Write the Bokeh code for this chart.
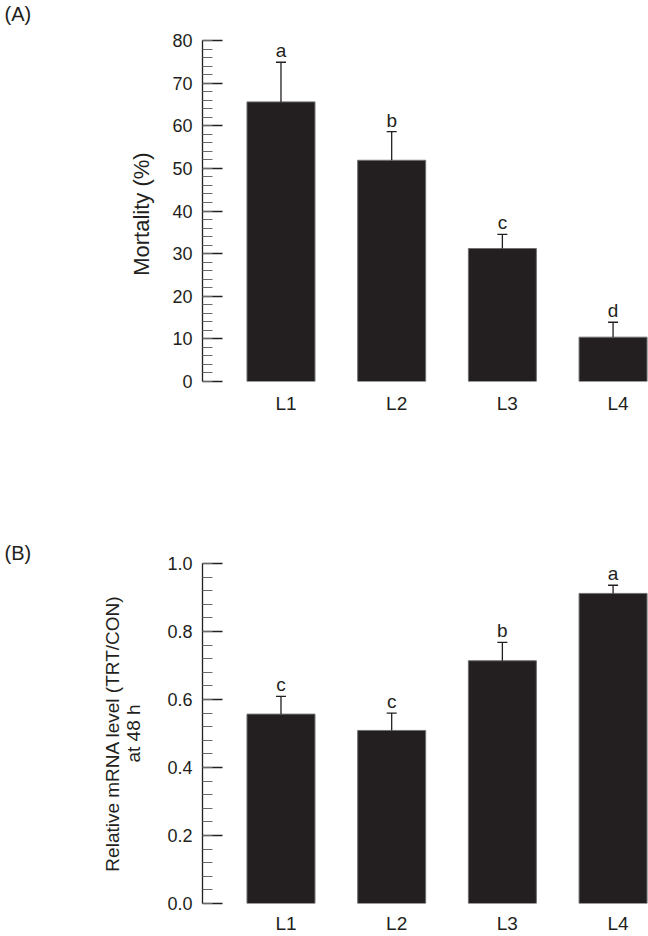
from bokeh.plotting import figure
from bokeh.layouts import column
from bokeh.models import (Range1d, FixedTicker, SingleIntervalTicker,
                          NumeralTickFormatter, ColumnDataSource)
from bokeh.core.properties import value
from bokeh.embed import file_html
from bokeh.resources import INLINE

# ---------------- data ----------------
categories = ["L1", "L2", "L3", "L4"]

mortality = [65.6, 51.9, 31.2, 10.4]
mortality_err = [9.3, 6.7, 3.3, 3.5]
mortality_letters = ["a", "b", "c", "d"]

mrna = [0.557, 0.509, 0.714, 0.912]
mrna_err = [0.052, 0.051, 0.054, 0.024]
mrna_letters = ["c", "c", "b", "a"]

FONT = "Liberation Sans"
INK = "#231f20"

# ---------------- layout constants ----------------
FIG_W = 648
LEFT = 202
X_START, X_END = 0.291, 4.32
UNIT_PX = (FIG_W - LEFT) / (X_END - X_START)
BAR_W = 68 / UNIT_PX
CAP_HALF = 5 / UNIT_PX
LABEL_SHIFT = 5 / UNIT_PX
TAG_H = 28


def style_title(p, tag, standoff):
    p.title.text = tag
    p.title.align = "left"
    p.title.offset = 4 - LEFT
    p.title.standoff = standoff
    p.title.text_font = FONT
    p.title.text_font_size = "20px"
    p.title.text_font_style = "normal"
    p.title.text_color = INK


def tag_strip(tag):
    # thin strip whose title carries the "(A)" tag at the very top of the page
    t = figure(width=FIG_W, height=TAG_H, x_range=Range1d(0, 1),
               y_range=Range1d(0, 1), output_backend="svg",
               toolbar_location=None, x_axis_location=None,
               y_axis_location=None, min_border=0)
    t.grid.visible = False
    t.outline_line_color = None
    style_title(t, tag, 0)
    return t


def make_panel(vals, errs, letters, y_end, interval, fmt, ylabel, ylabel_size,
               height, top, bottom, tag, tag_standoff,
               xlabel_standoff, ylabel_standoff):
    frame_h = height - top - bottom
    per_px = y_end / frame_h
    xs = list(range(1, len(categories) + 1))
    tops = [v + e for v, e in zip(vals, errs)]

    p = figure(width=FIG_W, height=height,
               x_range=Range1d(X_START, X_END), y_range=Range1d(0, y_end),
               output_backend="svg", toolbar_location=None,
               min_border_left=LEFT, min_border_right=0,
               min_border_top=top, min_border_bottom=bottom)
    p.grid.visible = False
    p.outline_line_color = None

    if tag:
        style_title(p, tag, tag_standoff)

    src = ColumnDataSource(dict(
        x=xs, top=vals, etop=tops,
        cl=[x - CAP_HALF for x in xs], cr=[x + CAP_HALF for x in xs],
        ly=[t + 1 * per_px for t in tops], letter=letters))

    p.vbar(x="x", top="top", bottom=0, width=BAR_W, source=src,
           fill_color=INK, line_color="#707070", line_width=1)
    p.segment(x0="x", y0="top", x1="x", y1="etop", source=src,
              line_color=INK, line_width=1.3)
    p.segment(x0="cl", y0="etop", x1="cr", y1="etop", source=src,
              line_color=INK, line_width=1.3)
    p.text(x="x", y="ly", text="letter", source=src,
           text_font=value(FONT), text_font_size="19px", text_color=INK,
           text_align="center", text_baseline="bottom")

    # y axis
    ya = p.yaxis[0]
    ya.ticker = SingleIntervalTicker(interval=interval, num_minor_ticks=5)
    if fmt:
        ya.formatter = NumeralTickFormatter(format=fmt)
    ya.axis_line_color = INK
    ya.axis_line_width = 1.3
    ya.major_tick_in = 20
    ya.major_tick_out = 0
    ya.minor_tick_in = 10
    ya.minor_tick_out = 0
    ya.major_tick_line_color = INK
    ya.major_tick_line_width = 1.5
    ya.minor_tick_line_color = "#6a6a6a"
    ya.minor_tick_line_width = 1.2
    ya.major_label_text_font = FONT
    ya.major_label_text_font_size = "18px"
    ya.major_label_text_color = INK
    ya.major_label_standoff = 10
    ya.axis_label = ylabel
    ya.axis_label_text_font = FONT
    ya.axis_label_text_font_size = ylabel_size
    ya.axis_label_text_font_style = "normal"
    ya.axis_label_text_color = INK
    ya.axis_label_text_line_height = 1.0
    ya.axis_label_standoff = ylabel_standoff

    # x axis
    xa = p.xaxis[0]
    ticks = [x + LABEL_SHIFT for x in xs]
    xa.ticker = FixedTicker(ticks=ticks)
    xa.major_label_overrides = {t: c for t, c in zip(ticks, categories)}
    xa.axis_line_color = None
    xa.major_tick_line_color = None
    xa.minor_tick_line_color = None
    xa.major_label_text_font = FONT
    xa.major_label_text_font_size = "19px"
    xa.major_label_text_color = INK
    xa.major_label_standoff = xlabel_standoff
    return p


tA = tag_strip("(A)")
pA = make_panel(mortality, mortality_err, mortality_letters, 80, 10, None,
                "Mortality  (%)", "22px", 416 - TAG_H, 40 - TAG_H, 34, None, 0,
                5, 15)
pB = make_panel(mrna, mrna_err, mrna_letters, 1.0, 0.2, "0.0",
                "Relative mRNA level (TRT/CON)\nat 48 h", "19px", 520, 147, 33,
                "(B)", 0, 3, 20)

layout = column(tA, pA, pB, spacing=0)
open("out.html", "w").write(file_html(layout, INLINE))
